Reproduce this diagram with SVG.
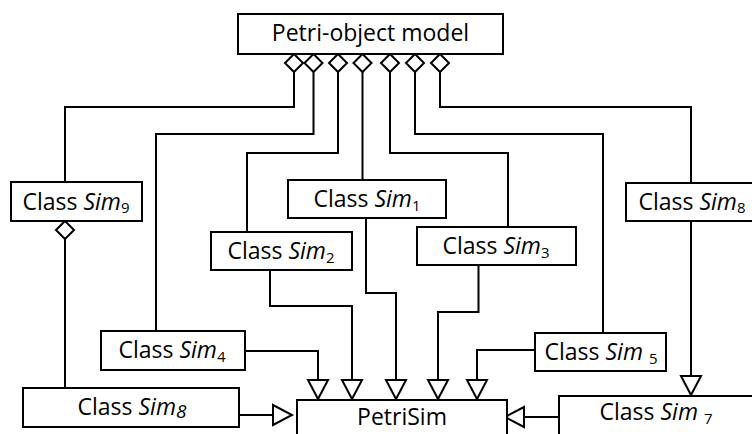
<svg xmlns="http://www.w3.org/2000/svg" width="752" height="434" viewBox="0 0 752 434">
  <style>
    .box { fill: #fff; stroke: #000; stroke-width: 2; }
    .lbl { font-family: "Open Sans", "Noto Sans", "Liberation Sans", sans-serif; font-size: 23px; fill: #000; text-anchor: middle; }
    .it { font-style: italic; }
    .sub { font-size: 15px; }
    .wire { fill: none; stroke: #000; stroke-width: 2; }
    .agg { marker-start: url(#diamond); }
    .gen { marker-end: url(#hollow); }
  </style>
  <defs>
    <!-- open diamond: aggregation end, drawn at the path start -->
    <marker id="diamond" markerUnits="userSpaceOnUse" viewBox="-1 -10 21 20" refX="0" refY="0" markerWidth="21" markerHeight="20" orient="auto" overflow="visible">
      <polygon points="0,0 9,-9 18,0 9,9" fill="#fff" stroke="#000" stroke-width="2"/>
    </marker>
    <!-- hollow triangle: inheritance end, tip at the path end -->
    <marker id="hollow" markerUnits="userSpaceOnUse" viewBox="-21 -11 23 22" refX="0" refY="0" markerWidth="23" markerHeight="22" orient="auto" overflow="visible">
      <polygon points="-19,-10 0,0 -19,10" fill="#fff" stroke="#000" stroke-width="2"/>
    </marker>
  </defs>

  <g id="connectors">
    <!-- aggregation links from the model to each simulation class -->
    <path class="wire agg" d="M294,54 V107 H65 V182"/>
    <path class="wire agg" d="M313.5,54 V134 H156 V331"/>
    <path class="wire agg" d="M338,54 V153 H247 V232"/>
    <path class="wire agg" d="M362.5,54 V180"/>
    <path class="wire agg" d="M390,54 V153 H508 V227"/>
    <path class="wire agg" d="M415,54 V134 H603 V333"/>
    <path class="wire agg" d="M440,54 V107 H691 V183"/>
    <path class="wire agg" d="M65,221 V388"/>
    <!-- inheritance links into PetriSim -->
    <path class="wire gen" d="M366,218 V293 H396 V399"/>
    <path class="wire gen" d="M270,270 V306 H352 V399"/>
    <path class="wire gen" d="M478.5,265 V312 H438 V399"/>
    <path class="wire gen" d="M245,351 H318 V399"/>
    <path class="wire gen" d="M535,350 H477 V399"/>
    <path class="wire gen" d="M239,415 H292"/>
    <path class="wire gen" d="M559,417 H505"/>
    <path class="wire gen" d="M691,221 V395"/>
  </g>

  <g id="model">
    <rect class="box" x="238" y="14" width="265" height="40"/>
    <text class="lbl" x="370.5" y="41">Petri-object model</text>
  </g>

  <g id="sim9">
    <rect class="box" x="11" y="182" width="131" height="39"/>
    <text class="lbl" x="76" y="209.5">Class <tspan class="it">Sim</tspan><tspan class="sub" dy="3">9</tspan></text>
  </g>

  <g id="sim1">
    <rect class="box" x="288" y="180" width="158" height="38"/>
    <text class="lbl" x="367" y="207">Class <tspan class="it">Sim</tspan><tspan class="sub" dy="4">1</tspan></text>
  </g>

  <g id="sim2">
    <rect class="box" x="211" y="232" width="141" height="38"/>
    <text class="lbl" x="281" y="259">Class <tspan class="it">Sim</tspan><tspan class="sub" dy="4">2</tspan></text>
  </g>

  <g id="sim3">
    <rect class="box" x="417" y="227" width="159" height="38"/>
    <text class="lbl" x="496" y="254">Class <tspan class="it">Sim</tspan><tspan class="sub" dy="4">3</tspan></text>
  </g>

  <g id="sim8-right">
    <rect class="box" x="626" y="183" width="140" height="38"/>
    <text class="lbl" x="692" y="210">Class <tspan class="it">Sim</tspan><tspan class="sub" dy="3">8</tspan></text>
  </g>

  <g id="sim4">
    <rect class="box" x="101" y="331" width="144" height="39"/>
    <text class="lbl" x="172" y="358">Class <tspan class="it">Sim</tspan><tspan class="sub" dy="4">4</tspan></text>
  </g>

  <g id="sim5">
    <rect class="box" x="535" y="333" width="131" height="38"/>
    <text class="lbl" x="601" y="360">Class <tspan class="it">Sim </tspan><tspan class="sub" dy="4">5</tspan></text>
  </g>

  <g id="sim8-left">
    <rect class="box" x="23" y="388" width="216" height="39"/>
    <text class="lbl" x="132" y="415">Class <tspan class="it">Sim</tspan><tspan class="it" font-size="19px" dy="3">8</tspan></text>
  </g>

  <g id="sim7">
    <rect class="box" x="559" y="396" width="200" height="50"/>
    <text class="lbl" x="656" y="420">Class <tspan class="it">Sim </tspan><tspan class="sub" dy="4">7</tspan></text>
  </g>

  <g id="petrisim">
    <rect class="box" x="297" y="400" width="210" height="50"/>
    <text class="lbl" x="402" y="425">PetriSim</text>
  </g>
</svg>
